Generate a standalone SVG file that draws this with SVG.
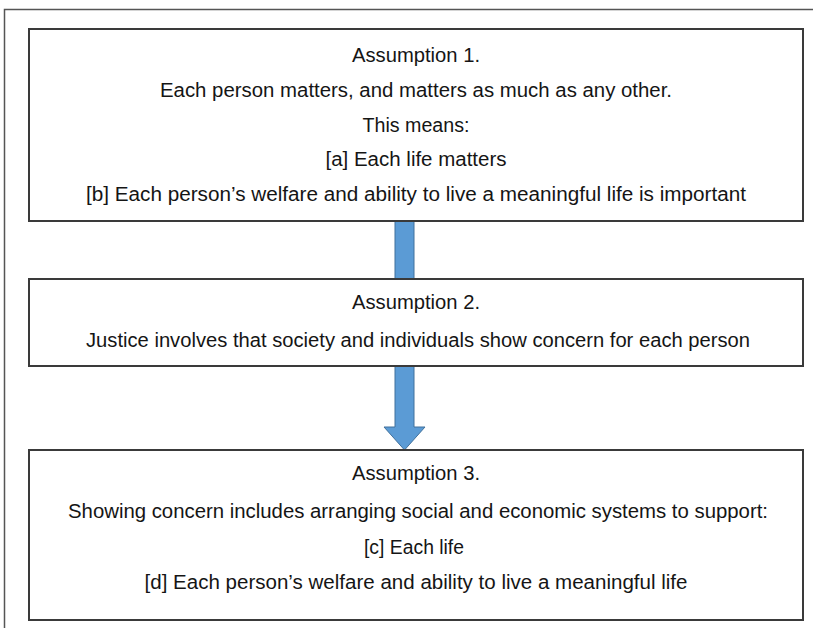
<svg xmlns="http://www.w3.org/2000/svg" width="813" height="628" viewBox="0 0 813 628">
<style>
.box{fill:#fff;stroke:#3a3a3a;stroke-width:2}
.t{font-family:"Liberation Sans",Arial,sans-serif;font-size:20px;fill:#151515;text-anchor:middle}
.arr{fill:#5b9bd5;stroke:#41719c;stroke-width:1}
</style>
<rect x="0" y="0" width="813" height="628" fill="#fff"/>
<path d="M4.5 640 V9.5 H820" fill="none" stroke="#555" stroke-width="1.5"/>
<g id="connectors">
<rect class="arr" x="395" y="221" width="19" height="58"/>
<path class="arr" d="M395 366 H414 V427 H425 L404.5 450 L384 427 H395 Z"/>
</g>
<g id="node1">
<rect class="box" x="29" y="29" width="774" height="192"/>
<text class="t" x="416" y="62" textLength="128" lengthAdjust="spacingAndGlyphs">Assumption 1.</text>
<text class="t" x="416" y="97" textLength="512" lengthAdjust="spacingAndGlyphs">Each person matters, and matters as much as any other.</text>
<text class="t" x="416" y="132" textLength="107" lengthAdjust="spacingAndGlyphs">This means:</text>
<text class="t" x="416" y="166" textLength="181" lengthAdjust="spacingAndGlyphs">[a] Each life matters</text>
<text class="t" x="416" y="201" textLength="660" lengthAdjust="spacingAndGlyphs">[b] Each person’s welfare and ability to live a meaningful life is important</text>
</g>
<g id="node2">
<rect class="box" x="29" y="279" width="774" height="87"/>
<text class="t" x="416" y="309" textLength="128" lengthAdjust="spacingAndGlyphs">Assumption 2.</text>
<text class="t" x="418" y="347" textLength="664" lengthAdjust="spacingAndGlyphs">Justice involves that society and individuals show concern for each person</text>
</g>
<g id="node3">
<rect class="box" x="29" y="450" width="774" height="170"/>
<text class="t" x="416" y="480" textLength="128" lengthAdjust="spacingAndGlyphs">Assumption 3.</text>
<text class="t" x="418" y="518" textLength="700" lengthAdjust="spacingAndGlyphs">Showing concern includes arranging social and economic systems to support:</text>
<text class="t" x="414" y="554" textLength="100" lengthAdjust="spacingAndGlyphs">[c] Each life</text>
<text class="t" x="416" y="589" textLength="543" lengthAdjust="spacingAndGlyphs">[d] Each person’s welfare and ability to live a meaningful life</text>
</g>
</svg>
